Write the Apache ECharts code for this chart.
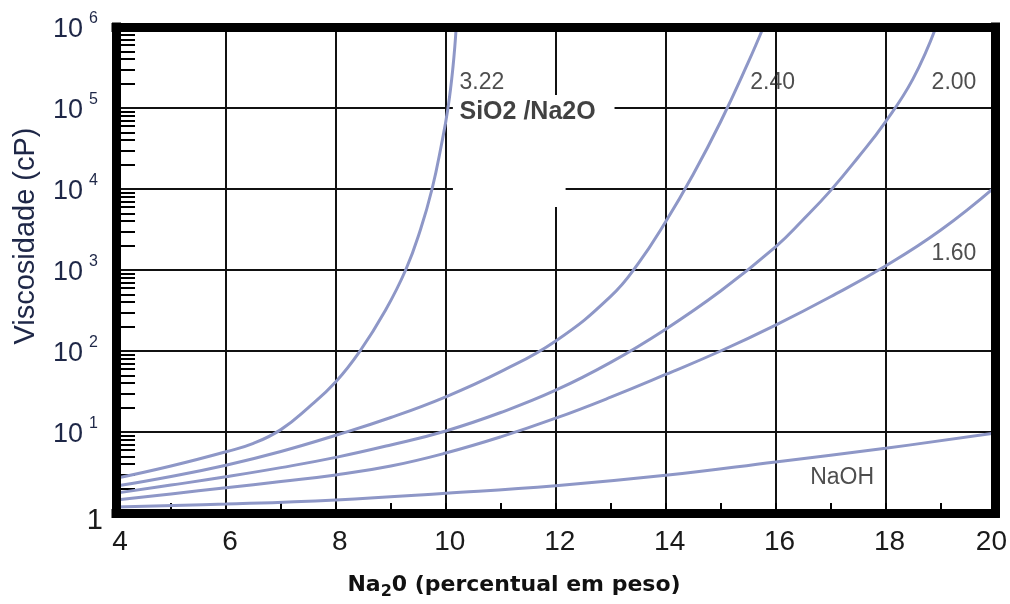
<!DOCTYPE html>
<html>
<head>
<meta charset="utf-8">
<title>Viscosidade de silicatos de sódio</title>
<script src="https://cdn.jsdelivr.net/npm/echarts@6/dist/echarts.min.js"></script>
<style>
  html, body { margin: 0; padding: 0; background: #ffffff; }
  #chart { width: 1010px; height: 604px; }
</style>
</head>
<body>
<div id="chart"></div>
<script>
// Viscosity (cP) of sodium silicate solutions versus Na2O content (wt %),
// one curve per SiO2/Na2O weight ratio, plus NaOH for reference.

// --- axis ticks ---
const xTickValues = [4, 6, 8, 10, 12, 14, 16, 18, 20];
const yTickValues = [1, 10, 100, 1000, 10000, 100000, 1000000];

// --- curve data: Na2O (%) and viscosity (cP) ---
const ratio322X = [4, 5, 6, 6.5, 7, 7.5, 8, 8.44, 8.9, 9.27, 9.54, 9.75, 9.92, 10.04, 10.13, 10.19];
const ratio322Y = [2.68, 3.8, 5.7, 7.24, 10.7, 20, 41.7, 100, 316, 1000, 3160, 10000, 35000, 100000, 316000, 1000000];

const ratio240X = [4, 5, 6, 7, 8, 9, 10, 11, 12, 13, 13.5, 14, 14.5, 15, 15.5, 15.78];
const ratio240Y = [2.15, 2.83, 3.89, 5.75, 9.12, 15.1, 27.2, 55.6, 133, 473, 1200, 3940, 15100, 67600, 363000, 1000000];

const ratio200X = [4, 5, 6, 7, 8, 9, 10, 11, 12, 13, 14, 15, 16, 16.5, 17, 17.5, 18, 18.5, 18.92];
const ratio200Y = [1.76, 2.21, 2.8, 3.63, 4.86, 6.92, 10.3, 17.4, 32.8, 72.4, 186, 550, 1930, 4170, 9550, 24500, 67600, 229000, 1000000];

const ratio160X = [4, 5, 6, 7, 8, 9, 10, 11, 12, 13, 14, 15, 16, 17, 18, 19, 20];
const ratio160Y = [1.45, 1.72, 2.05, 2.45, 2.95, 3.8, 5.5, 8.7, 14.8, 26.9, 51.3, 100, 209, 468, 1120, 3090, 10700];

const naohX = [4, 6, 8, 10, 12, 14, 16, 18, 20];
const naohY = [1.19, 1.29, 1.45, 1.75, 2.17, 2.92, 4.27, 6.3, 9.7];

// --- curve captions (anchor in data units: Na2O %, cP) ---
const captionText = ['3.22', 'SiO2 /Na2O', '2.40', '2.00', '1.60', 'NaOH'];
const captionX = [10.24, 10.24, 15.53, 18.83, 18.83, 16.62];
const captionY = [206000, 89000, 206000, 206000, 1590, 2.72];

// --- white backdrop behind the ratio caption (data units) ---
const backdropX = [[10.13, 12.18], [10.13, 13.07]];
const backdropY = [[6000, 145000], [80000, 145000]];

const SANS = "'Liberation Sans', Arial, sans-serif";
const CURVE = '#8e97c7';
const YLABEL = '#1e2747';

// minor log ticks 2..9 in every decade
const yMinorTicks = [];
for (let d = 0; d < 6; d++) {
  for (let m = 2; m <= 9; m++) yMinorTicks.push(m * Math.pow(10, d));
}

function pairs(xs, ys) {
  return xs.map((x, i) => [x, ys[i]]);
}

function curve(name, xs, ys) {
  return {
    name: name,
    type: 'line',
    xAxisIndex: 0,
    yAxisIndex: 0,
    data: pairs(xs, ys),
    smooth: 0.45,
    showSymbol: false,
    symbol: 'none',
    clip: true,
    z: 2,
    lineStyle: { color: CURVE, width: 3 },
    emphasis: { disabled: true },
    silent: true
  };
}

const chart = echarts.init(document.getElementById('chart'), null, { renderer: 'canvas' });

const frameLine = { show: true, lineStyle: { color: '#000', width: 9, cap: 'square' } };

const option = {
  animation: false,
  backgroundColor: '#ffffff',
  grid: { left: 116, right: 14, top: 27, bottom: 91, containLabel: false },
  xAxis: [
    {
      type: 'value', min: 4, max: 20, interval: 2, position: 'bottom',
      axisLine: { show: false },
      axisTick: { show: true, inside: true, length: 10, lineStyle: { color: '#000', width: 2 } },
      minorTick: { show: true, splitNumber: 2, length: 10, lineStyle: { color: '#000', width: 2 } },
      splitLine: { show: true, lineStyle: { color: '#111', width: 2 } },
      minorSplitLine: { show: false },
      axisLabel: {
        show: true, margin: 15,
        showMinLabel: true, showMaxLabel: true,
        customValues: xTickValues,
        formatter: v => (v === 20 ? '{e|' + v + '}' : '{n|' + v + '}'),
        rich: {
          n: { fontSize: 28, fontFamily: SANS, color: '#1a1a1a', padding: [0, 0, 0, 8] },
          e: { fontSize: 28, fontFamily: SANS, color: '#1a1a1a', padding: [0, 8, 0, 0] }
        }
      }
    },
    {
      type: 'value', min: 0, max: 1, position: 'bottom', z: 10,
      axisLine: frameLine, axisTick: { show: false }, axisLabel: { show: false }, splitLine: { show: false }
    },
    {
      type: 'value', min: 0, max: 1, position: 'top', z: 10,
      axisLine: frameLine, axisTick: { show: false }, axisLabel: { show: false }, splitLine: { show: false }
    }
  ],
  yAxis: [
    {
      type: 'log', logBase: 10, min: 1, max: 1000000, position: 'left',
      axisLine: { show: false },
      axisTick: { show: false, customValues: yTickValues },
      splitLine: { show: true, lineStyle: { color: '#111', width: 2 } },
      axisLabel: {
        show: true, margin: 13,
        showMinLabel: true, showMaxLabel: true,
        customValues: yTickValues,
        formatter: v => {
          if (v <= 1) return '{one|1}';
          return '{b|10}{s|' + Math.round(Math.log10(v)) + '}';
        },
        rich: {
          b: { fontSize: 27, fontFamily: SANS, color: YLABEL, padding: [5, 0, 0, 0] },
          s: { fontSize: 16, fontFamily: SANS, color: YLABEL, verticalAlign: 'top', padding: [0, 5, 0, 6] },
          one: { fontSize: 29, fontFamily: SANS, color: '#1a1a1a', padding: [15, 0, 0, 0] }
        }
      }
    },
    {
      // minor ticks of the logarithmic scale, drawn inside the frame
      type: 'log', logBase: 10, min: 1, max: 1000000, position: 'left',
      axisLine: { show: false },
      axisTick: { show: true, inside: true, length: 19, customValues: yMinorTicks, lineStyle: { color: '#000', width: 2 } },
      axisLabel: { show: false }, splitLine: { show: false }
    },
    {
      type: 'value', min: 0, max: 1, position: 'left', z: 10,
      axisLine: frameLine, axisTick: { show: false }, axisLabel: { show: false }, splitLine: { show: false }
    },
    {
      type: 'value', min: 0, max: 1, position: 'right', z: 10,
      axisLine: frameLine, axisTick: { show: false }, axisLabel: { show: false }, splitLine: { show: false }
    }
  ],
  graphic: [
    {
      type: 'text', x: 26, y: 236, rotation: Math.PI / 2, silent: true,
      style: {
        text: 'Viscosidade (cP)', fill: YLABEL,
        font: "29px 'Liberation Sans', Arial, sans-serif",
        align: 'center', verticalAlign: 'middle'
      }
    },
    {
      type: 'text', x: 514, y: 587, silent: true,
      style: {
        text: '{a|Na}{s|2}{a|0 (percentual em peso)}',
        align: 'center', verticalAlign: 'middle',
        rich: {
          a: { fontSize: 22, fontWeight: 'bold', fontFamily: "'DejaVu Sans', sans-serif", fill: '#111', verticalAlign: 'top' },
          s: { fontSize: 16, fontWeight: 'bold', fontFamily: "'DejaVu Sans', sans-serif", fill: '#111', verticalAlign: 'top', padding: [9, 0, 0, 0] }
        }
      }
    }
  ],
  series: [
    {
      name: 'backdrop', type: 'scatter', xAxisIndex: 0, yAxisIndex: 0, data: [], z: 1, silent: true,
      markArea: {
        silent: true,
        itemStyle: { color: '#ffffff', opacity: 1, borderWidth: 0 },
        label: { show: false },
        data: backdropX.map((bx, i) => [
          { coord: [bx[0], backdropY[i][0]] },
          { coord: [bx[1], backdropY[i][1]] }
        ])
      }
    },
    curve('3.22', ratio322X, ratio322Y),
    curve('2.40', ratio240X, ratio240Y),
    curve('2.00', ratio200X, ratio200Y),
    curve('1.60', ratio160X, ratio160Y),
    curve('NaOH', naohX, naohY),
    {
      name: 'captions', type: 'scatter', xAxisIndex: 0, yAxisIndex: 0, z: 4, silent: true,
      symbolSize: 1,
      itemStyle: { color: 'rgba(0,0,0,0)' },
      emphasis: { disabled: true },
      data: captionText.map((t, i) => ({
        name: t,
        value: [captionX[i], captionY[i]],
        label: t.indexOf('/') >= 0
          ? { fontFamily: SANS, fontWeight: 'bold', fontSize: 25, color: '#111' }
          : {}
      })),
      label: {
        show: true, position: 'right', distance: 0,
        align: 'left', verticalAlign: 'middle',
        formatter: p => p.name,
        fontFamily: SANS, fontSize: 23, color: '#222'
      },
      labelLayout: { hideOverlap: false }
    }
  ]
};

chart.setOption(option);
</script>
</body>
</html>
